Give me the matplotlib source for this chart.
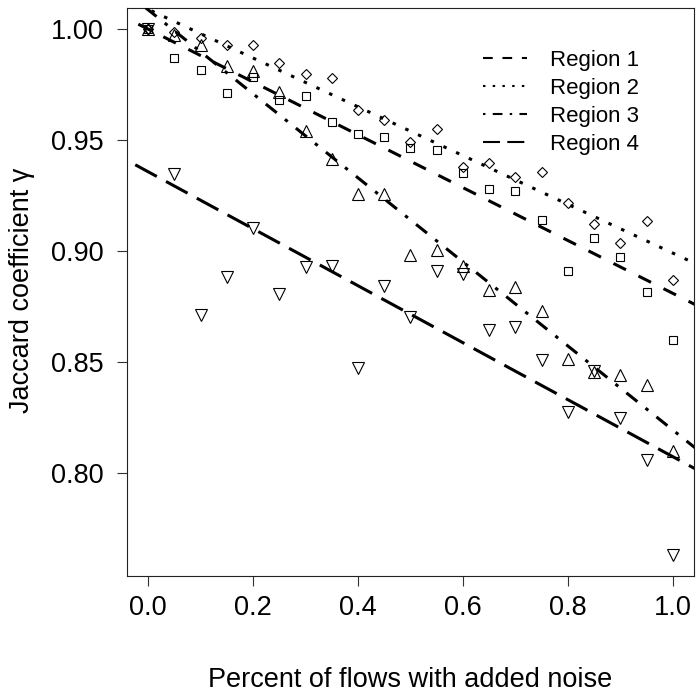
import numpy as np
import matplotlib
matplotlib.use("Agg")
import matplotlib.pyplot as plt
from matplotlib.lines import Line2D

plt.rcParams['font.family'] = ['Liberation Sans', 'DejaVu Sans']
plt.rcParams['lines.scale_dashes'] = False

noise = [0.00, 0.05, 0.10, 0.15, 0.20, 0.25, 0.30, 0.35, 0.40, 0.45, 0.50,
         0.55, 0.60, 0.65, 0.70, 0.75, 0.80, 0.85, 0.90, 0.95, 1.00]

region1 = [1.0000, 0.9871, 0.9817, 0.9714, 0.9785, 0.9679, 0.9697, 0.9580,
           0.9528, 0.9515, 0.9465, 0.9453, 0.9350, 0.9278, 0.9268, 0.9139,
           0.8910, 0.9057, 0.8971, 0.8817, 0.8597]
region2 = [1.0000, 0.9985, 0.9962, 0.9930, 0.9930, 0.9847, 0.9799, 0.9778,
           0.9634, 0.9589, 0.9491, 0.9548, 0.9378, 0.9395, 0.9333, 0.9358,
           0.9218, 0.9121, 0.9034, 0.9133, 0.8871]
region3 = [1.0000, 0.9974, 0.9929, 0.9832, 0.9810, 0.9715, 0.9540, 0.9413,
           0.9256, 0.9256, 0.8982, 0.9004, 0.8934, 0.8824, 0.8839, 0.8731,
           0.8514, 0.8455, 0.8439, 0.8394, 0.8098]
region4 = [1.0000, 0.9345, 0.8713, 0.8881, 0.9102, 0.8806, 0.8929, 0.8934,
           0.8473, 0.8844, 0.8702, 0.8911, 0.8896, 0.8642, 0.8657, 0.8507,
           0.8275, 0.8457, 0.8249, 0.8057, 0.7631]

labels = ["Region 1", "Region 2", "Region 3", "Region 4"]
x_ticks = [0.0, 0.2, 0.4, 0.6, 0.8, 1.0]
y_ticks = [0.80, 0.85, 0.90, 0.95, 1.00]

W, H = 697, 693
fig = plt.figure(figsize=(W / 100, H / 100), dpi=100)
L, R, T, B = 127, 694, 8, 576
ax = fig.add_axes([L / W, 1 - B / H, (R - L) / W, (B - T) / H])

patterns = [(4, 4), (1, 3), (1, 3, 4, 3), (7, 3)]
markers = [('s', 5.6), ('D', 5.3), ('^', 8.4), ('v', 8.4)]
series = [region1, region2, region3, region4]

x = np.array(noise)
for ys, (m, ms) in zip(series, markers):
    ax.plot(x, ys, linestyle='none', marker=m, ms=ms,
            mfc='none', mec='black', mew=0.8, zorder=2)

u = 2.52  # dash unit in points for fitted lines
xx = np.array([-0.2, 1.2])
for ys, pat in zip(series, patterns):
    b, a = np.polyfit(x, np.array(ys), 1)
    ax.plot(xx, a + b * xx, color='black', lw=2.2,
            linestyle=(0, tuple(p * u for p in pat)),
            zorder=3, dash_capstyle='butt')

ul = 1.75  # dash unit for legend samples
handles = [Line2D([], [], color='black', lw=1.5,
                  linestyle=(0, tuple(p * ul for p in pat)),
                  dash_capstyle='butt') for pat in patterns]

ax.set_xlim(-0.04, 1.04)
ax.set_ylim(0.7535, 1.0095)
ax.set_xticks(x_ticks)
ax.set_xticklabels([f"{v:.1f}" for v in x_ticks])
ax.set_yticks(y_ticks)
ax.set_yticklabels([f"{v:.2f}" for v in y_ticks])
ax.tick_params(axis='both', direction='out', length=7.5, width=0.8,
               labelsize=19.5, color='#333333')
ax.tick_params(axis='x', pad=6)
ax.tick_params(axis='y', pad=9)
for sp in ax.spines.values():
    sp.set_linewidth(0.8)
    sp.set_color('#222222')

fig.text(410.5 / W, 1 - 680 / H, "Percent of flows with added noise",
         ha='center', va='center', fontsize=19.5)
fig.text(22 / W, 1 - 290 / H, "Jaccard coefficient \u03b3", rotation=90,
         ha='center', va='center', fontsize=19.5)

leg = ax.legend(handles, labels, loc='upper left',
                bbox_to_anchor=(483 / W, 1 - 50 / H),
                bbox_transform=fig.transFigure, frameon=False, fontsize=16,
                handlelength=2.0, handletextpad=1.0, labelspacing=0.31,
                borderpad=0, borderaxespad=0)

fig.savefig("out.png", dpi=100)
